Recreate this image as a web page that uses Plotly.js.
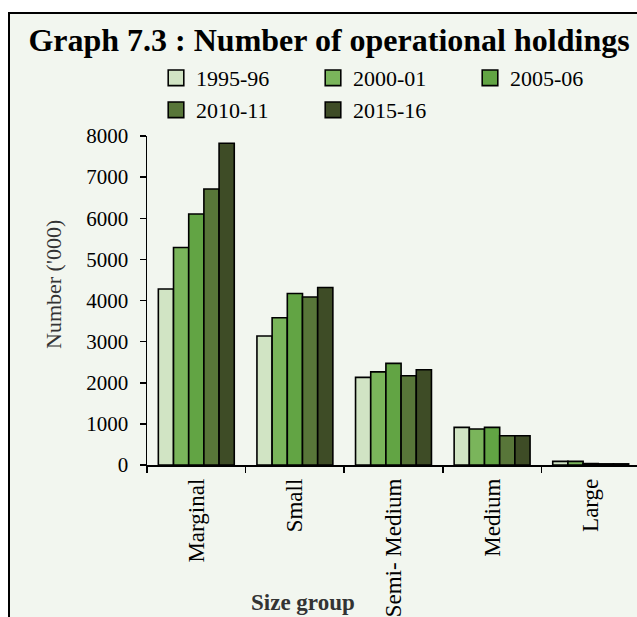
<!DOCTYPE html>
<html>
<head>
<meta charset="utf-8">
<script src="https://cdn.plot.ly/plotly-3.0.1.min.js"></script>
<style>
  html, body { margin:0; padding:0; width:637px; height:617px; overflow:hidden; background:#ffffff; }
  #frame { position:absolute; left:8px; top:12px; width:700px; height:700px; border:2px solid #000; background:#f2f6ef; }
  #chart { position:absolute; left:0; top:0; width:680px; height:617px; }
</style>
</head>
<body>
<div id="frame"></div>
<div id="chart"></div>
<script>
const categories = ["Marginal", "Small", "Semi- Medium", "Medium", "Large"];
const seriesNames = ["1995-96", "2000-01", "2005-06", "2010-11", "2015-16"];
const v1995 = [4280, 3135, 2130, 915, 89];
const v2000 = [5290, 3580, 2265, 875, 89];
const v2005 = [6105, 4170, 2470, 915, 35];
const v2010 = [6710, 4085, 2170, 712, 28];
const v2015 = [7825, 4315, 2315, 712, 28];
const colors = ["#d1e4c4", "#7ab55b", "#62a444", "#587639", "#3e4c26"];
const yTicks = [0, 1000, 2000, 3000, 4000, 5000, 6000, 7000, 8000];
const xTitle = "Size group";
const yTitle = "Number ('000)";
const chartTitle = "Graph 7.3 : Number of operational holdings";

const allValues = [v1995, v2000, v2005, v2010, v2015];
const font = "Liberation Serif, Times New Roman, serif";

const traces = allValues.map((vals, i) => ({
  type: "bar",
  name: seriesNames[i],
  x: categories,
  y: vals,
  marker: { color: colors[i], line: { color: "#000000", width: 1.6 } },
  legend: i < 3 ? "legend" : "legend2",
  hoverinfo: "skip"
}));

const legendCommon = {
  orientation: "h",
  xref: "container", yref: "container",
  xanchor: "left", yanchor: "top",
  entrywidth: 112, entrywidthmode: "pixels",
  bgcolor: "rgba(0,0,0,0)",
  font: { family: font, size: 22, color: "#000" },
  itemclick: false, itemdoubleclick: false,
  traceorder: "normal"
};

const layout = {
  width: 680, height: 617,
  margin: { l: 147, r: 40, t: 136, b: 152 },
  paper_bgcolor: "rgba(0,0,0,0)",
  plot_bgcolor: "rgba(0,0,0,0)",
  barmode: "group",
  bargap: 0.23,
  bargroupgap: 0,
  title: {
    text: "<b>" + chartTitle + "</b>",
    font: { family: font, size: 32, color: "#000" },
    xref: "container", yref: "container",
    x: 329 / 680, xanchor: "center",
    y: 1 - 40 / 617, yanchor: "middle"
  },
  legend: Object.assign({}, legendCommon, { x: 156 / 680, y: 1 - 57 / 617 }),
  legend2: Object.assign({}, legendCommon, { x: 156 / 680, y: 1 - 89 / 617 }),
  xaxis: {
    type: "category",
    tickangle: -90,
    tickson: "boundaries",
    ticks: "outside", ticklen: 6, tickcolor: "#000", tickwidth: 1.5,
    showline: true, linecolor: "#000", linewidth: 1.5,
    showgrid: false, zeroline: false,
    ticklabelstandoff: 3,
    tickfont: { family: font, size: 23, color: "#000" },
    automargin: false
  },
  yaxis: {
    range: [0, 8000],
    tickvals: yTicks,
    ticktext: yTicks.map(String),
    ticks: "outside", ticklen: 6, tickcolor: "#000", tickwidth: 1.5,
    showline: true, linecolor: "#000", linewidth: 1.5,
    showgrid: false, zeroline: false,
    ticklabelstandoff: 7,
    tickfont: { family: font, size: 21, color: "#000" },
    automargin: false
  },
  annotations: [
    {
      text: "<b>" + xTitle + "</b>",
      xref: "paper", yref: "paper",
      x: (303 - 147) / 493, y: -(602 - 465) / 329,
      xanchor: "center", yanchor: "middle",
      showarrow: false,
      font: { family: font, size: 23, color: "#333" }
    },
    {
      text: yTitle,
      textangle: -90,
      xref: "paper", yref: "paper",
      x: (53 - 147) / 493, y: (465 - 285) / 329,
      xanchor: "center", yanchor: "middle",
      showarrow: false,
      font: { family: font, size: 22, color: "#333" }
    }
  ],
  showlegend: true
};

Plotly.newPlot("chart", traces, layout, { displayModeBar: false, staticPlot: true }).then(() => {
  document.querySelectorAll("#chart .legendpoints path").forEach(p => {
    const t = p.getAttribute("transform") || "";
    p.setAttribute("transform", (t + " scale(1.3)").trim());
    p.style.strokeWidth = "1.2px";
  });
});
</script>
</body>
</html>
